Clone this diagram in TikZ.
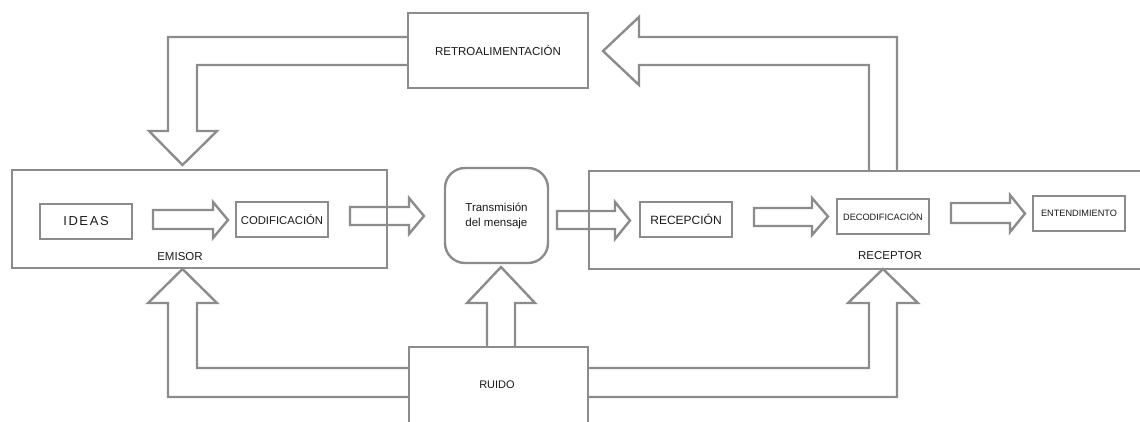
\documentclass[tikz,border=0pt]{standalone}
\usepackage{fontspec}
\setmainfont{Liberation Sans}
\begin{document}
\begin{tikzpicture}[x=1pt,y=-1pt,
  line/.style={draw=gray55,line width=2.4pt,line join=miter},
  box/.style={line,rectangle,inner sep=0pt,text=txt},
  barrow/.style={draw=gray55,line width=2.4pt,line join=miter},
  lbl/.style={text=txt,inner sep=0pt}]
\definecolor{gray55}{HTML}{8C8C8C}
\definecolor{txt}{HTML}{1A1A1A}
\useasboundingbox (0,0) rectangle (1140,421);
\clip (0,0) rectangle (1140,421);
\fill[white] (0,0) rectangle (1140,421);
% big frames
\node[box,minimum width=375pt,minimum height=98pt] (emisor) at (199.5,219) {};
\node[box,minimum width=560pt,minimum height=98pt,anchor=north west] (receptor) at (588,170) {};
\node[box,rounded corners=20pt,minimum width=103pt,minimum height=95pt] (trans) at (496.5,215.5)
  {\fontsize{11.5}{15}\selectfont\begin{tabular}{@{}l@{}}Transmisión\\del mensaje\end{tabular}};
\node[box,minimum width=180pt,minimum height=75pt] (retro) at (498,50.5) {\fontsize{11.5}{14}\selectfont RETROALIMENTACIÓN};
\node[box,minimum width=179pt,minimum height=84pt,anchor=north west] (ruido) at (408,346) {};
\node[lbl] at (497,385) {\fontsize{11}{13}\selectfont RUIDO};
% inner boxes
\node[box,minimum width=92pt,minimum height=35pt] (ideas) at (86,221.5) {\fontsize{13}{15}\selectfont I\kern1.6pt D\kern1.6pt E\kern1.6pt A\kern1.6pt S};
\node[box,minimum width=92pt,minimum height=35pt] (codif) at (282,219.5) {\fontsize{11.3}{14}\selectfont CODIFICACIÓN};
\node[box,minimum width=92pt,minimum height=35pt] (recep) at (686,219.5) {\fontsize{12}{14}\selectfont RECEPCIÓN};
\node[box,minimum width=92pt,minimum height=35pt] (decod) at (883,216.5) {\fontsize{9.2}{11}\selectfont DECODIFICACIÓN};
\node[box,minimum width=92pt,minimum height=35pt] (entend) at (1079,213.5) {\fontsize{9.2}{11}\selectfont ENTENDIMIENTO};
\node[lbl] (emisorlbl) at (180,257) {\fontsize{11.5}{14}\selectfont EMISOR};
\node[lbl] (receptorlbl) at (890,256) {\fontsize{11.5}{14}\selectfont RECEPTOR};
% horizontal block arrows
\draw[barrow] (153,210) -- (213,210) -- (213,202) -- (228,220) -- (213,238) -- (213,229) -- (153,229) -- cycle;
\draw[barrow] (350,207) -- (409,207) -- (409,198) -- (424,216) -- (409,234) -- (409,225) -- (350,225) -- cycle;
\draw[barrow] (557,211) -- (615,211) -- (615,202) -- (630,220.5) -- (615,239) -- (615,229) -- (557,229) -- cycle;
\draw[barrow] (754,208) -- (812,208) -- (812,198) -- (828,216.5) -- (812,235) -- (812,226) -- (754,226) -- cycle;
\draw[barrow] (951,203) -- (1010,203) -- (1010,195) -- (1025,213.5) -- (1010,232) -- (1010,223) -- (951,223) -- cycle;
% feedback arrows
\draw[barrow] (retro.west |- 0,37) -- (168,37) -- (168,131) -- (149,131) -- (182.5,165) -- (217,131) -- (197,131) -- (197,65) -- (retro.west |- 0,65);
\draw[barrow] (869,170) -- (869,65) -- (639,65) -- (639,85) -- (603,51) -- (639,17) -- (639,37) -- (897,37) -- (897,170);
% noise arrows
\draw[barrow] (408,397) -- (168,397) -- (168,303) -- (148,303) -- (182.5,269) -- (217,303) -- (197,303) -- (197,368) -- (408,368);
\draw[barrow] (487,346) -- (487,303) -- (467,303) -- (501,267) -- (535,303) -- (515,303) -- (515,346);
\draw[barrow] (587,368) -- (869,368) -- (869,303) -- (848,303) -- (883,269) -- (918,303) -- (897,303) -- (897,397) -- (587,397);
\end{tikzpicture}
\end{document}
